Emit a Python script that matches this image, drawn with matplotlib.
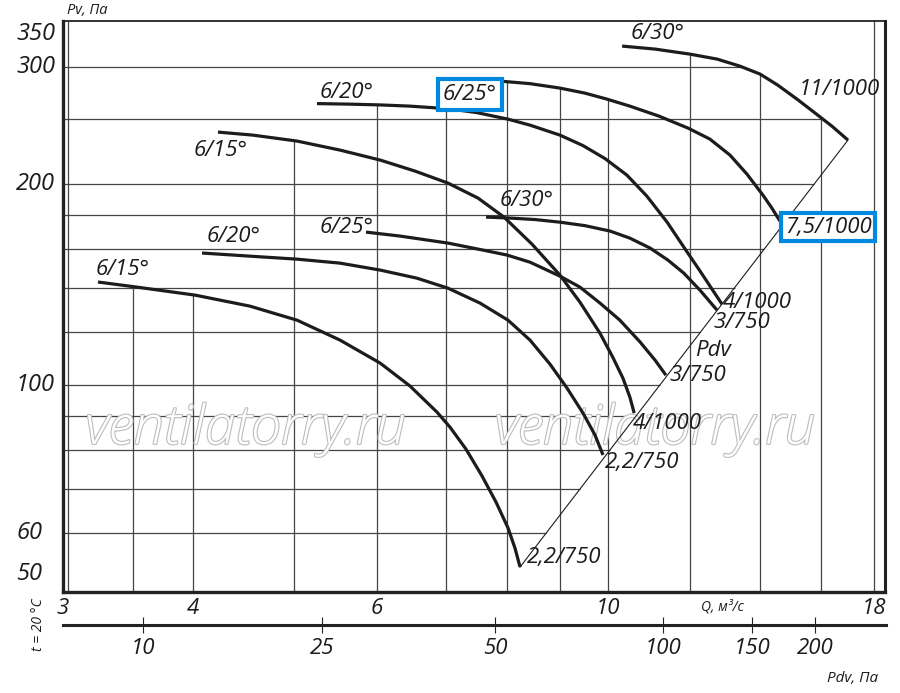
import numpy as np
import matplotlib
matplotlib.use("Agg")
import matplotlib.pyplot as plt
import matplotlib.transforms as mtransforms
import matplotlib.patheffects as pe
from matplotlib.ticker import NullLocator

plt.rcParams['font.family'] = ['Open Sans', 'DejaVu Sans']
plt.rcParams['font.style'] = 'italic'

# fan curves: Q [m3/s], Pv [Pa]
q_615a = [3.241, 3.533, 4.016, 4.535, 5.032, 5.533, 6.046, 6.458, 6.856, 7.056, 7.309,
          7.573, 7.811, 8.021, 8.145, 8.237]
p_615a = [142.7, 140.2, 136.4, 131.3, 125.1, 116.8, 107.9, 99.7, 91.1, 86.5, 80.2,
          73.1, 66.8, 61.1, 57.0, 53.4]
q_620a = [4.079, 4.535, 5.032, 5.533, 6.046, 6.559, 7.024, 7.539, 8.021, 8.420, 8.800,
          9.137, 9.466, 9.720, 9.894]
p_620a = [157.7, 156.0, 154.4, 152.3, 148.7, 144.6, 139.7, 132.7, 125.1, 116.8, 107.5,
          99.0, 90.8, 84.2, 78.6]
q_615b = [4.225, 4.565, 5.032, 5.533, 6.046, 6.530, 7.024, 7.506, 7.949, 8.457, 8.997,
          9.403, 9.828, 10.11, 10.34, 10.50, 10.60]
p_615b = [239.3, 236.8, 232.0, 224.9, 217.3, 209.2, 200.7, 190.6, 178.5, 162.6, 146.1,
          133.1, 119.6, 110.1, 102.4, 95.9, 90.8]
q_625a = [5.860, 6.317, 7.024, 7.589, 8.003, 8.420, 8.997, 9.403, 9.828, 10.27, 10.74,
          11.10, 11.37]
p_625a = [169.5, 167.2, 163.2, 159.3, 156.6, 152.8, 145.6, 140.2, 132.7, 125.1, 116.0,
          109.0, 103.5]
q_630a = [7.640, 8.056, 8.513, 8.997, 9.508, 10.05, 10.50, 10.98, 11.42, 11.83, 12.26,
          12.73]
p_630a = [178.5, 177.9, 177.0, 175.4, 173.3, 170.1, 166.0, 160.4, 153.9, 147.1, 138.7,
          129.5]
q_620b = [5.259, 5.657, 6.046, 6.458, 6.796, 7.135, 7.489, 8.021, 8.420, 8.997, 9.466,
          9.938, 10.43, 10.90, 11.40, 11.83, 12.26, 12.59, 12.87]
p_620b = [264.0, 263.5, 262.8, 261.7, 260.3, 258.6, 255.9, 250.2, 245.1, 236.8, 228.4,
          218.4, 206.3, 191.9, 175.4, 160.9, 148.2, 139.2, 132.2]
q_625b = [7.880, 8.420, 8.997, 9.508, 9.981, 10.50, 11.20, 11.94, 12.53, 13.10, 13.60,
          14.09, 14.37, 14.63]
p_625b = [285.3, 282.8, 278.5, 273.7, 268.1, 261.7, 252.8, 242.6, 233.6, 221.0, 207.0,
          192.5, 184.1, 176.0]
q_630b = [10.32, 11.10, 11.99, 12.73, 13.39, 14.00, 14.56, 15.19, 15.81, 16.41, 17.00]
p_630b = [321.9, 318.6, 313.1, 307.8, 300.4, 292.3, 281.3, 268.1, 255.5, 244.2, 232.8]

curves = [(q_615a, p_615a), (q_620a, p_620a), (q_615b, p_615b), (q_625a, p_625a),
          (q_630a, p_630a), (q_620b, p_620b), (q_625b, p_625b), (q_630b, p_630b)]

# blade angle labels at curve starts and motor labels at curve ends
start_labels = ['6/15°', '6/20°', '6/15°', '6/25°', '6/30°', '6/20°', '6/25°', '6/30°']
start_q = [3.42, 4.37, 4.25, 5.61, 8.36, 5.62, 7.375, 11.15]
start_p = [149.2, 167.2, 224.8, 172.5, 189.2, 274.6, 272.7, 336.6]
start_boxed = [False, False, False, False, False, False, True, False]
end_labels = ['2,2/750', '2,2/750', '4/1000', '3/750', '3/750', '4/1000', '7,5/1000', '11/1000']
end_q = [8.36, 9.94, 10.57, 11.47, 12.62, 12.90, 14.79, 15.26]
end_p = [55.1, 76.7, 87.7, 103.2, 124.3, 133.1, 172.5, 277.5]
end_boxed = [False, False, False, False, False, False, True, False]

q_ticks = [3, 4, 6, 10, 18]
p_ticks = [350, 300, 200, 100, 60, 50]
q_grid = [3.5, 4, 5, 6, 7, 8, 9, 10, 12, 14, 16, 18]
p_grid = [300, 250, 200, 180, 160, 140, 120, 100, 90, 80, 70, 60]

pdv_ticks = [10, 25, 50, 100, 150, 200]
pdv_q = [3.58, 5.31, 7.79, 11.27, 13.73, 15.79]

QMIN, QMAX = 3, 18.45
PMIN, PMAX = 49, 351
BLUE = '#0089de'
INK = '#1c1c1c'
GRID = '#444444'


def value_on(q, qs, ps):
    if q < qs[0] or q > qs[-1]:
        return None
    return 10 ** np.interp(np.log10(q), np.log10(qs), np.log10(ps))


fig = plt.figure(figsize=(9, 6.93), dpi=100)
ax = fig.add_axes([63 / 900, 1 - 592 / 693, 822 / 900, 571 / 693])
ax.set_xscale('log')
ax.set_yscale('log')
ax.set_xlim(QMIN, QMAX)
ax.set_ylim(PMIN, PMAX)

# grid is only drawn under the curves and left of the Pdv line
for q in q_grid:
    tops = [value_on(q, qs, ps) for qs, ps in curves]
    tops = [t for t in tops if t is not None]
    top = max(tops) if tops else PMAX
    ax.vlines(q, PMIN, top, color=GRID, lw=0.9, zorder=1)
ax.vlines(3.03, PMIN, PMAX, color=GRID, lw=0.9, zorder=1)

diag_q = [q_615a[-1], q_630b[-1]]
diag_p = [p_615a[-1], p_630b[-1]]
for p in p_grid:
    if p > p_630b[0]:
        right = QMAX
    elif p >= p_630b[-1]:
        right = 10 ** np.interp(np.log10(p), np.log10(p_630b[::-1]), np.log10(q_630b[::-1]))
    else:
        right = 10 ** np.interp(np.log10(p), np.log10(diag_p), np.log10(diag_q))
    ax.hlines(p, QMIN, right, color=GRID, lw=0.9, zorder=1)

# watermark
for xf in [0.222, 0.720]:
    ax.text(xf, 0.284, 'ventilatorry.ru', transform=ax.transAxes, ha='center', va='center',
            fontsize=39, color='white', fontweight='light', zorder=2,
            path_effects=[pe.withStroke(linewidth=1.6, foreground='#bdbdbd')])

ax.plot(diag_q, diag_p, color=INK, lw=0.8, zorder=3)
for qs, ps in curves:
    ax.plot(qs, ps, color=INK, lw=2.3, solid_capstyle='butt', solid_joinstyle='round', zorder=4)

for i in range(len(curves)):
    kw = {}
    if start_boxed[i]:
        kw['bbox'] = dict(boxstyle='square,pad=0.22', fc='white', ec=BLUE, lw=3)
    ax.text(start_q[i], start_p[i], start_labels[i], ha='center', va='center',
            fontsize=16, color=INK, zorder=5, **kw)
    kw = {}
    if end_boxed[i]:
        kw['bbox'] = dict(boxstyle='square,pad=0.16', fc='white', ec=BLUE, lw=3)
    ax.text(end_q[i], end_p[i], end_labels[i], ha='left', va='center',
            fontsize=16, color=INK, zorder=5, **kw)
ax.text(12.13, 112.8, 'Pdv', ha='left', va='center', fontsize=16, color=INK, zorder=5)

ax.set_xticks(q_ticks)
ax.set_xticklabels([str(v) for v in q_ticks])
ax.xaxis.set_minor_locator(NullLocator())
ax.yaxis.set_minor_locator(NullLocator())
ax.set_yticks([])
ax.tick_params(axis='x', length=0, pad=4, labelsize=16, labelcolor=INK)

trans = mtransforms.blended_transform_factory(fig.transFigure, ax.transData)
for v in p_ticks:
    va = 'center'
    if v == max(p_ticks):
        va = 'top'
    elif v == min(p_ticks):
        va = 'bottom'
    ax.text(16 / 900, v, str(v), transform=trans, ha='left', va=va, fontsize=17, color=INK)

ax.spines['left'].set_linewidth(2.4)
ax.spines['bottom'].set_linewidth(2.4)
ax.spines['right'].set_linewidth(2.2)
ax.spines['top'].set_linewidth(1.3)
for s in ax.spines.values():
    s.set_color('#222222')

# dynamic pressure scale under the Q axis
ax2 = fig.add_axes([63 / 900, 1 - 625 / 693, 823 / 900, 0.0001])
ax2.set_xscale('log')
ax2.set_xlim(QMIN, QMAX)
ax2.set_yticks([])
for s in ['left', 'right', 'top']:
    ax2.spines[s].set_visible(False)
ax2.spines['bottom'].set_linewidth(2.2)
ax2.spines['bottom'].set_color('#222222')
ax2.set_xticks(pdv_q)
ax2.set_xticklabels([str(v) for v in pdv_ticks])
ax2.xaxis.set_minor_locator(NullLocator())
ax2.tick_params(axis='x', direction='inout', length=12, width=0.8, pad=3,
                labelsize=16, labelcolor=INK, color='#222222')
ax2.patch.set_visible(False)

fig.text(87 / 900, 1 - 11 / 693, 'Pv, Па', ha='center', va='center', fontsize=10.5, color=INK)
fig.text(722 / 900, 1 - 607 / 693, 'Q, м³/с', ha='center', va='center', fontsize=10, color=INK)
fig.text(853 / 900, 1 - 678 / 693, 'Pdv, Па', ha='center', va='center', fontsize=11, color=INK)
fig.text(38 / 900, 1 - 625 / 693, 't = 20 °C', ha='center', va='center', fontsize=10,
         rotation=90, color=INK)

fig.savefig('out.png', dpi=100)
